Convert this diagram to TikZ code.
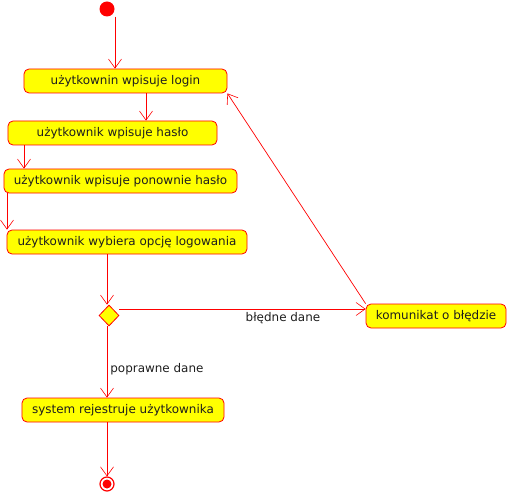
\documentclass[tikz,border=0pt]{standalone}
\usepackage{fontspec}
\setmainfont{DejaVu Sans}
\usetikzlibrary{arrows.meta,shapes.geometric,calc}
\definecolor{boxred}{RGB}{255,0,0}
\definecolor{boxyellow}{RGB}{255,255,0}
\definecolor{txt}{RGB}{30,30,30}
\tikzset{
  act/.style={draw=boxred, fill=boxyellow, rounded corners=5bp, line width=0.8bp,
    minimum height=24bp, inner sep=0pt, text=txt, font=\fontsize{12}{14}\selectfont},
  arr/.style={draw=boxred, line width=0.7bp, -{Straight Barb[length=9bp,width=13bp,line width=0.6bp]}},
  lbl/.style={text=txt, font=\fontsize{12}{14}\selectfont, inner sep=0pt}
}
\begin{document}
\begin{tikzpicture}[x=1bp,y=-1bp]
\useasboundingbox (0,0) rectangle (507,492);
\node[circle, fill=boxred, minimum size=15bp, inner sep=0pt] (start) at (107,9) {};
\node[act, minimum width=203bp] (b1) at (125.5,81) {użytkownin wpisuje login};
\node[act, minimum width=209bp] (b2) at (112.5,133) {użytkownik wpisuje hasło};
\node[act, minimum width=233bp] (b3) at (120.5,181) {użytkownik wpisuje ponownie hasło};
\node[act, minimum width=240bp] (b4) at (127,242) {użytkownik wybiera opcję logowania};
\node[diamond, draw=boxred, fill=boxyellow, line width=0.8bp, minimum width=20bp, minimum height=21bp, inner sep=0pt] (d) at (109,315.5) {};
\node[act, minimum width=202bp] (b5) at (123,410) {system rejestruje użytkownika};
\node[act, minimum width=140bp] (b6) at (436,316) {komunikat o błędzie};
\node[circle, draw=boxred, line width=1.2bp, minimum size=14bp, inner sep=0pt] (end) at (107,484) {};
\node[circle, fill=boxred, minimum size=9bp, inner sep=0pt] (endin) at (end.center) {};
\coordinate (x0) at (115,0);
\coordinate (x1) at (146,0);
\coordinate (x2) at (24,0);
\coordinate (x3) at (7,0);
\coordinate (x4) at (107,0);
\coordinate (y6) at (0,309);
\draw[arr] (start.south -| x0) -- (b1.north -| x0);
\draw[arr] (b1.south -| x1) -- (b2.north -| x1);
\draw[arr] (b2.south -| x2) -- (b3.north -| x2);
\draw[arr] (b3.south -| x3) -- (b4.north -| x3);
\draw[arr] (b4.south -| x4) -- (d.north -| x4);
\draw[arr] (d.south -| x4) -- node[lbl, right=3bp, pos=0.6] {poprawne dane} (b5.north -| x4);
\draw[arr] (b5.south -| x4) -- (end.north);
\draw[arr] (d.east |- y6) -- (b6.west |- y6);
\node[lbl] (l6) at (283,318) {błędne dane};
\draw[arr] (b6.north west) -- (b1.south east);
\end{tikzpicture}
\end{document}
